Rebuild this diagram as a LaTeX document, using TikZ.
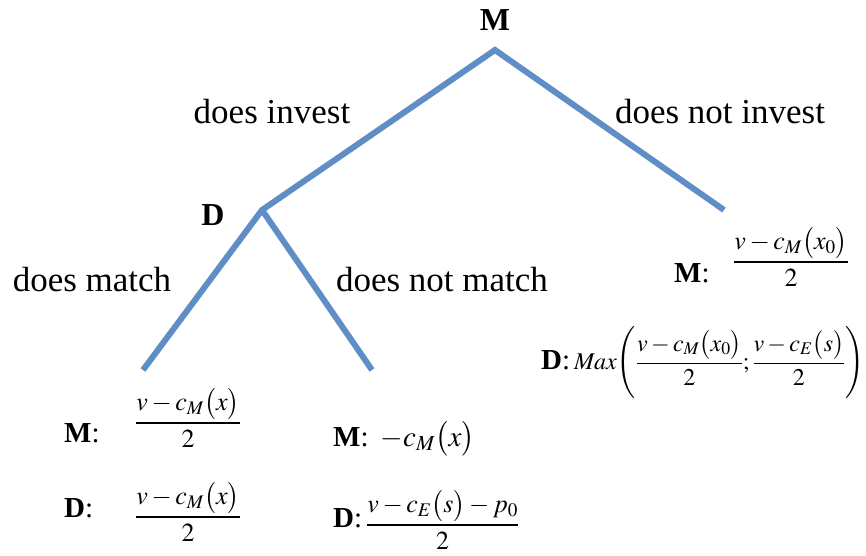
\documentclass[tikz,border=0pt]{standalone}
\usepackage{amsmath}
\usepackage{mathptmx}
\usepackage{fontspec}
\setmainfont{Liberation Serif}
\definecolor{branchblue}{RGB}{94,142,197}
\tikzset{
  branch/.style={draw=branchblue,line width=6pt,line join=miter},
  lbl/.style={font=\fontsize{35}{40}\selectfont,inner sep=0pt},
  player/.style={font=\fontsize{32}{36}\selectfont\bfseries,inner sep=0pt},
  who/.style={font=\fontsize{29}{32}\selectfont,inner sep=0pt,anchor=base west},
  pay/.style={font=\fontsize{26}{30}\selectfont,inner sep=0pt,anchor=base west},
  paysmall/.style={font=\fontsize{24}{28}\selectfont,inner sep=0pt,anchor=base west}
}
\begin{document}
\begin{tikzpicture}[x=1pt,y=-1pt]
\useasboundingbox (0,0) rectangle (866,555);
\coordinate (root) at (495,50);
\coordinate (dnode) at (262,210);
\coordinate (rleaf) at (724,210);
\coordinate (lleaf) at (143,370);
\coordinate (mleaf) at (372,370);
\draw[branch] (lleaf) -- (dnode) -- (root) -- (rleaf);
\draw[branch] (dnode) -- (mleaf);
\node[player] (mlab) at (495,20) {M};
\node[player] (dlab) at (213,215) {D};
\node[lbl] (inv) at (272,112) {does invest};
\node[lbl] (ninv) at (720,112) {does not invest};
\node[lbl] (mat) at (92,280) {does match};
\node[lbl] (nmat) at (442,280) {does not match};
% left leaf payoffs
\node[who] (p1m) at (64,442) {\textbf{M}:};
\node[pay] (p1mf) at (135,429.5) {$\dfrac{v-c_M\bigl(x\bigr)}{2}$};
\node[who] (p1d) at (64,517) {\textbf{D}:};
\node[pay] (p1df) at (135,523.5) {$\dfrac{v-c_M\bigl(x\bigr)}{2}$};
% middle leaf payoffs
\node[who] (p2m) at (333,446) {\textbf{M}:\hspace{12pt}$-c_M\bigl(x\bigr)$};
\node[who] (p2d) at (333,527) {\textbf{D}:};
\node[pay] (p2df) at (366,531.5) {$\dfrac{v-c_E\bigl(s\bigr)-p_0}{2}$};
% right leaf payoffs
\node[who] (p3m) at (674,282) {\textbf{M}:};
\node[pay] (p3mf) at (733,268.5) {$\dfrac{v-c_M\bigl(x_0\bigr)}{2}$};
\node[paysmall] (p3d) at (541,369) {{\fontsize{29}{32}\selectfont\textbf{D}:}\,$\mathit{Max}\!\left(\dfrac{v-c_M\bigl(x_0\bigr)}{2};\dfrac{v-c_E\bigl(s\bigr)}{2}\right)$};
\end{tikzpicture}
\end{document}
